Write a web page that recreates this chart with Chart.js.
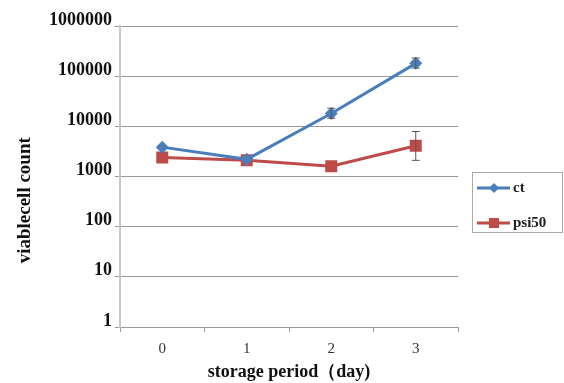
<!DOCTYPE html>
<html>
<head>
<meta charset="utf-8">
<script src="https://cdn.jsdelivr.net/npm/chart.js@4"></script>
<style>
  html, body { margin: 0; padding: 0; background: #fff; }
  #wrap { width: 564px; height: 383px; }
</style>
</head>
<body>
<div id="wrap"><canvas id="myChart" width="564" height="383"></canvas></div>
<script>
// data
const days = ["0", "1", "2", "3"];
const yTicks = [1, 10, 100, 1000, 10000, 100000, 1000000];
const ctValues = [3850, 2200, 18000, 180000];
const ctLow = [3850, 2200, 14500, 145000];
const ctHigh = [3850, 2200, 23000, 230000];
const psiValues = [2400, 2100, 1600, 4100];
const psiLow = [2400, 2100, 1600, 2100];
const psiHigh = [2400, 2100, 1600, 7900];

const serif = "'Liberation Serif', 'DejaVu Serif', serif";
const blue = "#4A7EBB";
const red = "#BE4B48";

// error bars, drawn through the chart's scales
const errorBars = {
  id: "errorBars",
  afterDatasetsDraw(chart) {
    const ctx = chart.ctx;
    const xs = chart.scales.x, ys = chart.scales.y;
    const sets = [[ctLow, ctHigh], [psiLow, psiHigh]];
    ctx.save();
    ctx.strokeStyle = "#555";
    ctx.lineWidth = 1;
    sets.forEach(([lo, hi]) => {
      for (let i = 0; i < days.length; i++) {
        if (lo[i] === hi[i]) continue;
        const x = xs.getPixelForValue(i);
        const y1 = ys.getPixelForValue(lo[i]);
        const y2 = ys.getPixelForValue(hi[i]);
        ctx.beginPath();
        ctx.moveTo(x, y1); ctx.lineTo(x, y2);
        ctx.moveTo(x - 4, y1); ctx.lineTo(x + 4, y1);
        ctx.moveTo(x - 4, y2); ctx.lineTo(x + 4, y2);
        ctx.stroke();
      }
    });
    ctx.restore();
  }
};

// boxed legend at the right side
const boxLegend = {
  id: "boxLegend",
  afterDraw(chart) {
    const ctx = chart.ctx;
    const left = 472, top = 172, w = 90, h = 60;
    ctx.save();
    ctx.strokeStyle = "#aaa";
    ctx.lineWidth = 1;
    ctx.strokeRect(left + 0.5, top + 0.5, w, h);
    ctx.font = "bold 15px " + serif;
    ctx.textBaseline = "middle";
    chart.data.datasets.forEach((ds, i) => {
      const y = top + 16 + i * 35;
      ctx.strokeStyle = ds.borderColor;
      ctx.lineWidth = 3;
      ctx.beginPath();
      ctx.moveTo(left + 5, y); ctx.lineTo(left + 38, y);
      ctx.stroke();
      ctx.fillStyle = ds.backgroundColor;
      ctx.beginPath();
      if (ds.pointStyle === "rect") {
        ctx.rect(left + 17, y - 5, 10, 10);
      } else {
        ctx.moveTo(left + 22, y - 5); ctx.lineTo(left + 27, y);
        ctx.lineTo(left + 22, y + 5); ctx.lineTo(left + 17, y);
        ctx.closePath();
      }
      ctx.fill();
      ctx.fillStyle = "#222";
      ctx.fillText(ds.label, left + 41, y);
    });
    ctx.restore();
  }
};

let ctx = document.getElementById("myChart").getContext("2d");
let chart = new Chart(ctx, {
  type: "line",
  data: {
    labels: days,
    datasets: [{
      label: "ct",
      data: ctValues,
      borderColor: blue,
      backgroundColor: blue,
      borderWidth: 3,
      pointStyle: "rectRot",
      pointRadius: 6.5,
      pointBorderWidth: 0,
      fill: false
    }, {
      label: "psi50",
      data: psiValues,
      borderColor: red,
      backgroundColor: red,
      borderWidth: 3,
      pointStyle: "rect",
      pointRadius: 8.5,
      pointBorderWidth: 0,
      fill: false
    }]
  },
  options: {
    responsive: false,
    animation: false,
    layout: { padding: { top: 26, right: 106, left: 0, bottom: 0 } },
    plugins: {
      legend: { display: false },
      tooltip: { enabled: false }
    },
    scales: {
      x: {
        type: "category",
        offset: true,
        grid: {
          offset: true,
          drawOnChartArea: false,
          tickLength: 5,
          color: "#999",
          tickColor: "#999"
        },
        border: { color: "#999", width: 1 },
        ticks: {
          color: "#333",
          padding: 8,
          font: { family: serif, size: 15 }
        },
        title: {
          display: true,
          text: "storage period（day)",
          color: "#111",
          font: { family: serif, size: 18, weight: "bold" },
          padding: { top: 0, bottom: 0 }
        },
        afterFit(scale) { scale.height = 56; }
      },
      y: {
        type: "logarithmic",
        min: 1,
        max: 1000000,
        afterBuildTicks(scale) {
          scale.ticks = yTicks.map(v => ({ value: v }));
        },
        grid: {
          color: "#999",
          tickColor: "#999",
          tickLength: 5
        },
        border: { color: "#c8c8c8", width: 2 },
        ticks: {
          color: "#111",
          padding: 3,
          labelOffset: -6,
          font: { family: serif, size: 18, weight: "bold" },
          callback: (v) => String(v)
        },
        title: {
          display: true,
          text: "viablecell count\u00a0\u00a0\u00a0\u00a0\u00a0\u00a0\u00a0\u00a0\u00a0\u00a0",
          color: "#111",
          font: { family: serif, size: 19, weight: "bold" },
          padding: { top: 14, bottom: 0 }
        },
        afterFit(scale) { scale.width = 120; }
      }
    }
  },
  plugins: [errorBars, boxLegend]
});
</script>
</body>
</html>
